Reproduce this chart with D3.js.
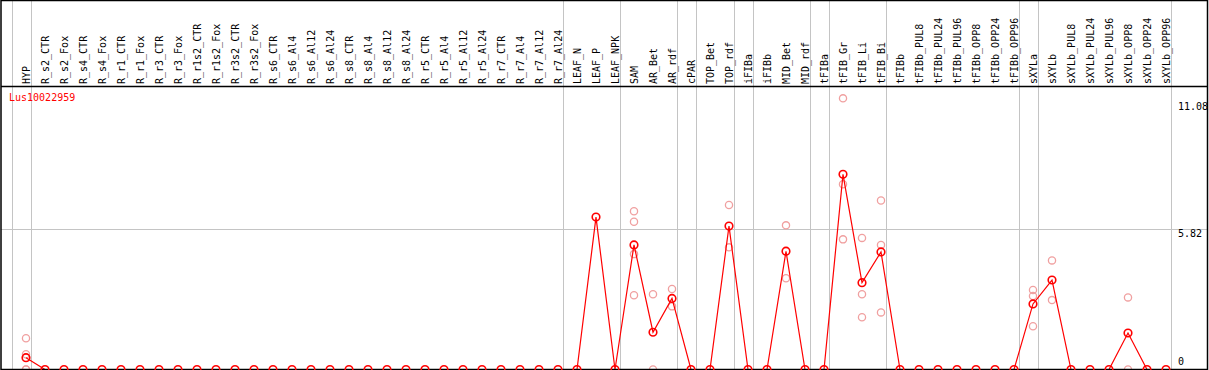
<!DOCTYPE html>
<html>
<head>
<meta charset="utf-8">
<script src="https://cdn.jsdelivr.net/npm/d3@7/dist/d3.min.js"></script>
<style>
html,body{margin:0;padding:0;background:#fff;}
svg{display:block;}
text{font-family:"DejaVu Sans Mono",monospace;font-size:10px;}
</style>
</head>
<body>
<svg id="chart" width="1209" height="370"></svg>
<script>
const geneName = "Lus10022959";
const categories = ["HYP","R_s2_CTR","R_s2_Fox","R_s4_CTR","R_s4_Fox","R_r1_CTR","R_r1_Fox","R_r3_CTR","R_r3_Fox","R_r1s2_CTR","R_r1s2_Fox","R_r3s2_CTR","R_r3s2_Fox","R_s6_CTR","R_s6_Al4","R_s6_Al12","R_s6_Al24","R_s8_CTR","R_s8_Al4","R_s8_Al12","R_s8_Al24","R_r5_CTR","R_r5_Al4","R_r5_Al12","R_r5_Al24","R_r7_CTR","R_r7_Al4","R_r7_Al12","R_r7_Al24","LEAF_N","LEAF_P","LEAF_NPK","SAM","AR_Bet","AR_rdf","cPAR","TOP_Bet","TOP_rdf","iFIBa","iFIBb","MID_Bet","MID_rdf","tFIBa","tFIB_Gr","tFIB_Li","tFIB_Bi","tFIBb","tFIBb_PUL8","tFIBb_PUL24","tFIBb_PUL96","tFIBb_OPP8","tFIBb_OPP24","tFIBb_OPP96","sXYLa","sXYLb","sXYLb_PUL8","sXYLb_PUL24","sXYLb_PUL96","sXYLb_OPP8","sXYLb_OPP24","sXYLb_OPP96"];
// mean expression per category
const meanValues = [0.49,0,0,0,0,0,0,0,0,0,0,0,0,0,0,0,0,0,0,0,0,0,0,0,0,0,0,0,0,0,6.30,0,5.15,1.54,2.94,0,0,5.93,0,0,4.89,0,0,8.07,3.59,4.86,0,0,0,0,0,0,0,2.71,3.70,0,0,0,1.51,0,0];
// replicate values (category, value)
const replicateCats = ["HYP","HYP","HYP","HYP","SAM","SAM","SAM","SAM","AR_Bet","AR_Bet","AR_rdf","AR_rdf","TOP_rdf","TOP_rdf","MID_Bet","MID_Bet","tFIB_Gr","tFIB_Gr","tFIB_Gr","tFIB_Li","tFIB_Li","tFIB_Li","tFIB_Bi","tFIB_Bi","tFIB_Bi","sXYLa","sXYLa","sXYLa","sXYLb","sXYLb","sXYLb_OPP8","sXYLb_OPP8"];
const replicateVals = [1.29,0.63,0,0,6.54,6.11,4.77,3.07,3.11,0,3.33,2.61,6.80,5.05,5.96,3.77,11.21,7.66,5.38,5.44,3.11,2.16,6.99,5.15,2.36,3.29,3.04,1.79,4.51,2.87,2.98,0];
// group separators drawn after these categories
const groupEnds = ["HYP","R_r7_Al24","LEAF_NPK","AR_rdf","cPAR","TOP_rdf","iFIBa","MID_rdf","tFIBa","tFIB_Bi","tFIBb_OPP96","sXYLa","sXYLb_OPP96"];
const yTicks = [0, 5.82, 11.08];

(function () {
const svg = d3.select("#chart");
const fLeft = 1, fRight = 1207.5, fTop = 0.5, fSep = 86.5, fBottom = 369.5;

const x = d3.scalePoint().domain(categories).range([26, 1166]);
const step = x.step();
const y = d3.scaleLinear().domain([0, 11.08]).range([369.5, 101.5]);

// vertical group gridlines
const gx = [x(categories[0]) - step + 4.5].concat(groupEnds.map(c => x(c) + 4.5));
svg.append("g").selectAll("line").data(gx).join("line")
  .attr("x1", d => Math.round(d) + 0.5).attr("x2", d => Math.round(d) + 0.5)
  .attr("y1", fTop).attr("y2", fBottom)
  .attr("stroke", "#c4c4c4").attr("stroke-width", 1);

// horizontal gridlines (interior ticks)
svg.append("g").selectAll("line").data(yTicks.filter(v => v > 0 && v < 11.08)).join("line")
  .attr("x1", fLeft).attr("x2", fRight)
  .attr("y1", d => Math.round(y(d)) + 0.5).attr("y2", d => Math.round(y(d)) + 0.5)
  .attr("stroke", "#c4c4c4").attr("stroke-width", 1);

// category labels
svg.append("g").selectAll("text").data(categories).join("text")
  .attr("transform", d => `translate(${x(d) + 4},84) rotate(-90)`)
  .attr("text-anchor", "start")
  .attr("fill", "#000")
  .text(d => d);

// y tick labels
svg.append("g").selectAll("text").data(yTicks).join("text")
  .attr("x", 1178)
  .attr("y", d => Math.min(y(d) + 8, 365))
  .attr("fill", "#000")
  .text(d => d === 0 ? "0" : d.toFixed(2));

// gene title
svg.append("text").attr("x", 9).attr("y", 101).attr("fill", "#ff0000").text(geneName);

// replicate points
svg.append("g").selectAll("circle").data(replicateVals.map((v, i) => ({c: replicateCats[i], v}))).join("circle")
  .attr("cx", d => x(d.c)).attr("cy", d => y(d.v)).attr("r", 3.6)
  .attr("fill", "none").attr("stroke", "#f0a0a0").attr("stroke-width", 1.3);

// mean line
const meanData = categories.map((c, i) => ({c, v: meanValues[i]}));
svg.append("path").datum(meanData)
  .attr("d", d3.line().x(d => x(d.c)).y(d => y(d.v)))
  .attr("fill", "none").attr("stroke", "#ff0000").attr("stroke-width", 1.2);

// frame
svg.append("rect").attr("x", fLeft).attr("y", fTop).attr("width", fRight - fLeft).attr("height", fBottom - fTop)
  .attr("fill", "none").attr("stroke", "#000").attr("stroke-width", 1.5);
svg.append("line").attr("x1", fLeft).attr("x2", fRight).attr("y1", fSep).attr("y2", fSep)
  .attr("stroke", "#000").attr("stroke-width", 1.5);

// mean points
svg.append("g").selectAll("circle").data(meanData).join("circle")
  .attr("cx", d => x(d.c)).attr("cy", d => y(d.v)).attr("r", 3.8)
  .attr("fill", "none").attr("stroke", "#ff0000").attr("stroke-width", 1.6);
})();
</script>
</body>
</html>
